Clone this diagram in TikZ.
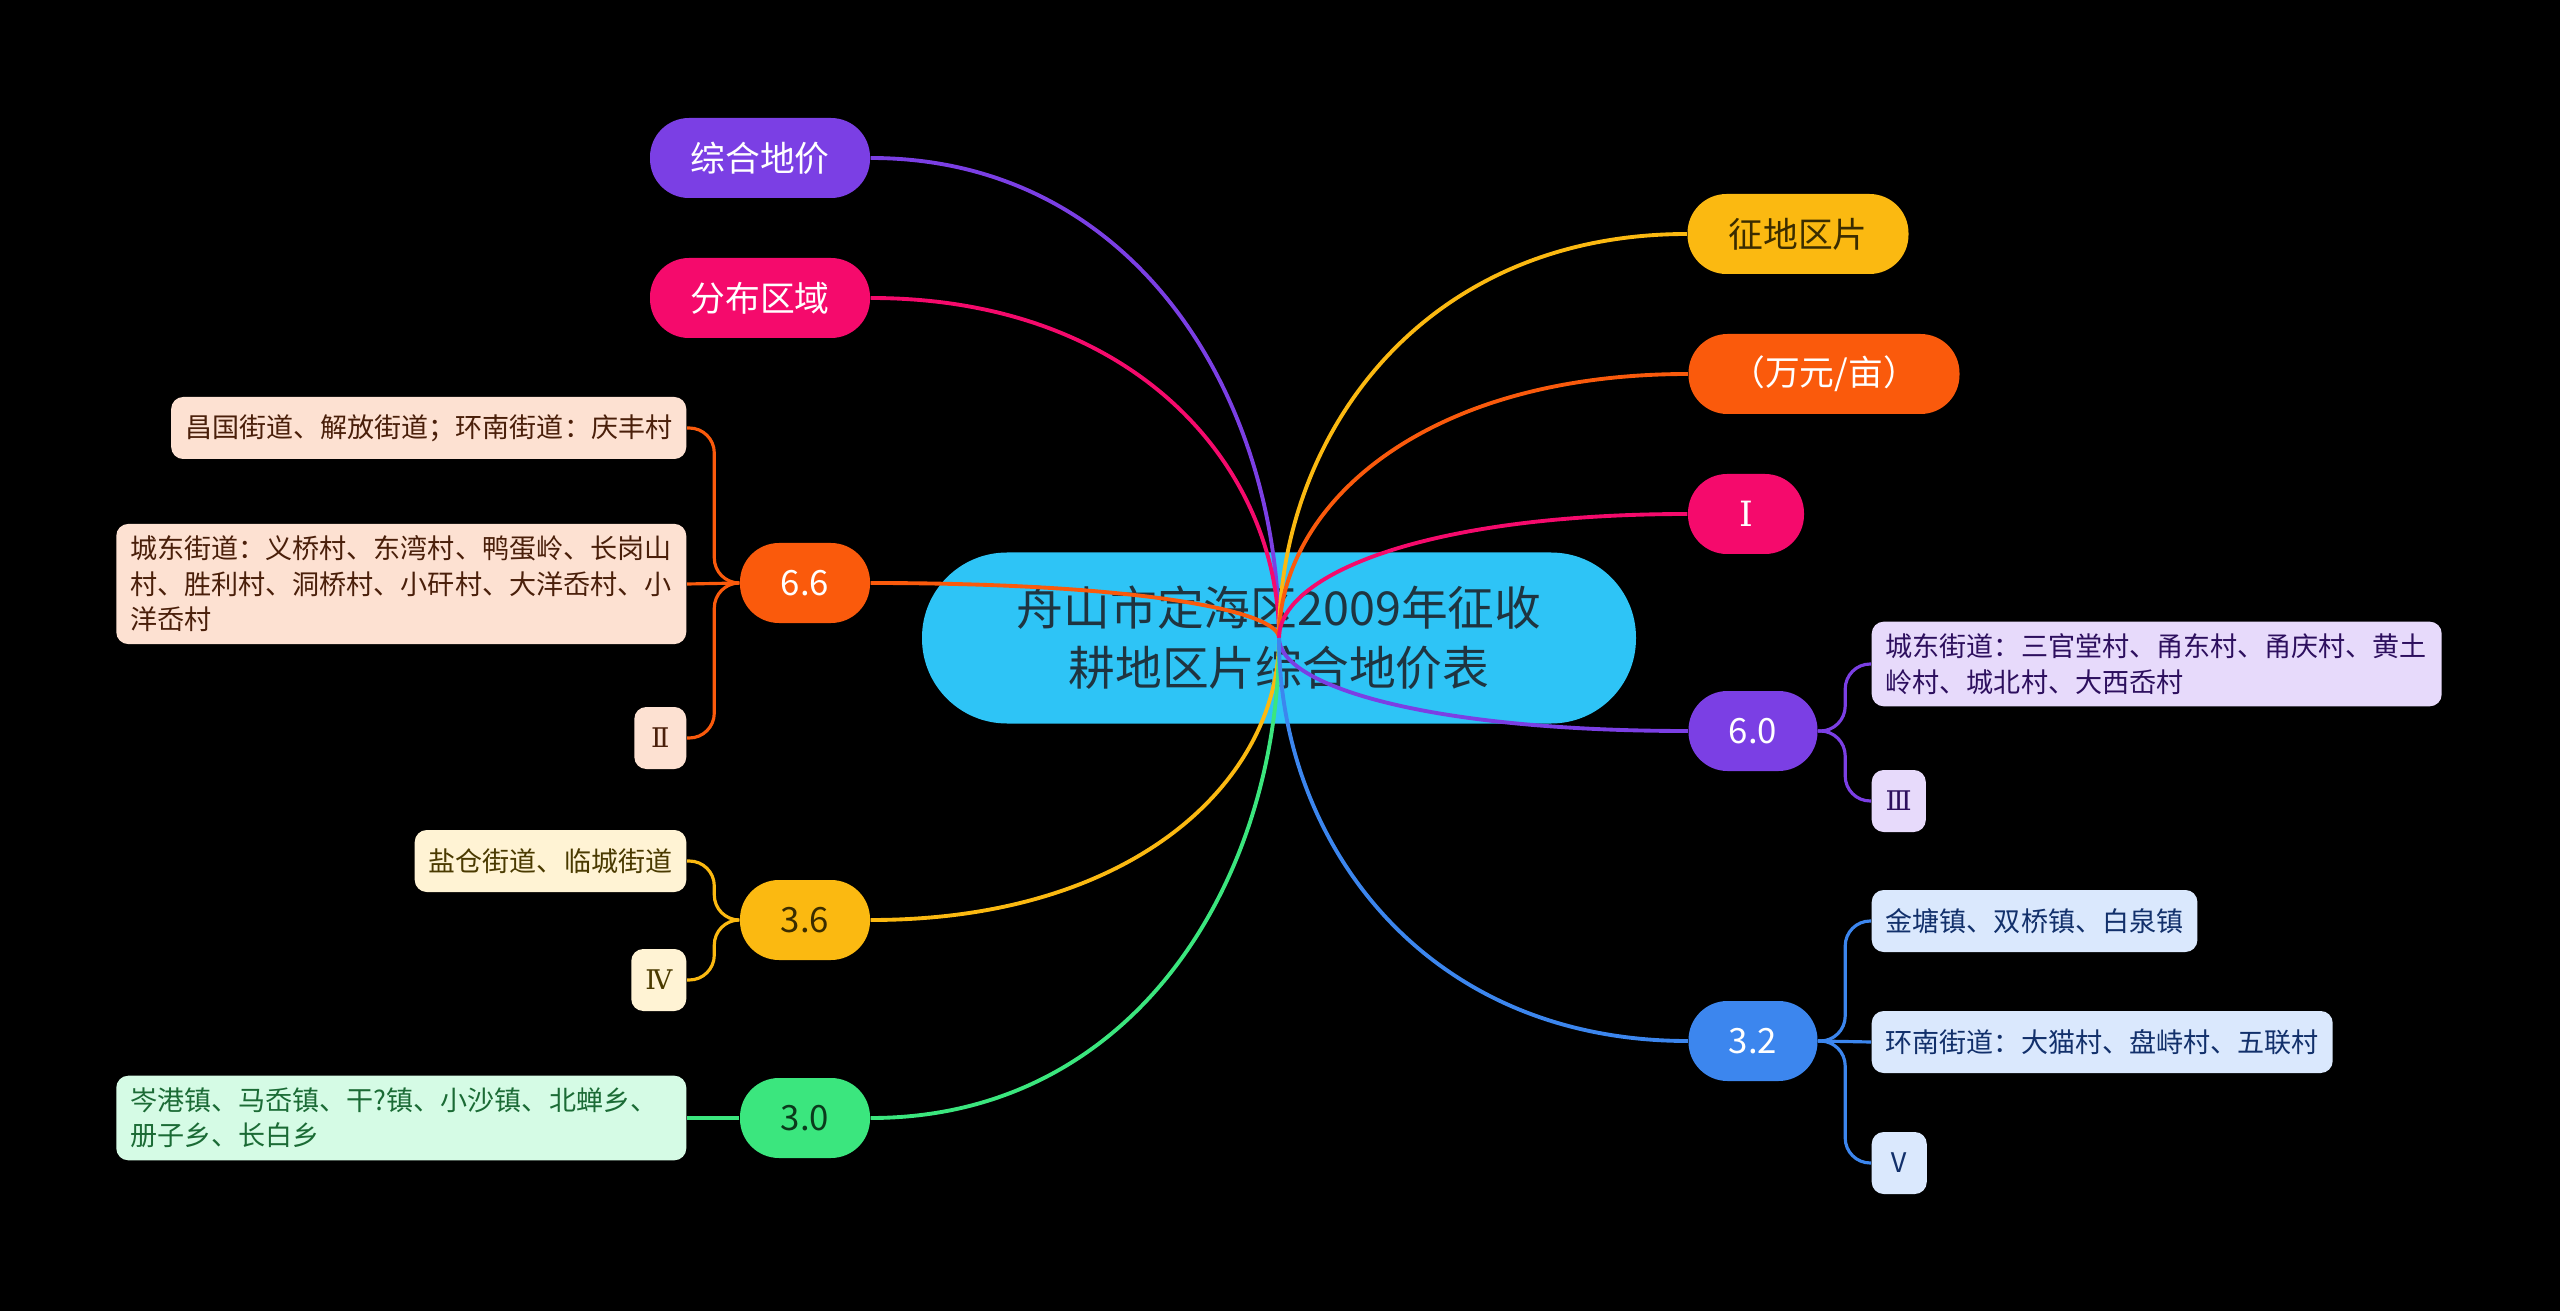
\documentclass[tikz,border=0pt]{standalone}
\usepackage{fontspec}
\usepackage{tikz}
\usetikzlibrary{calc}
\newfontfamily\cjk{Noto Sans CJK SC}
\newfontfamily\romnum{DejaVu Serif}
\definecolor{mmcyan}{HTML}{2EC4F6}
\definecolor{mmhubtext}{HTML}{1F3440}
\definecolor{mmviolet}{HTML}{7B3FE4}
\definecolor{mmrose}{HTML}{F50A6C}
\definecolor{mmorange}{HTML}{FA5A0C}
\definecolor{mmgold}{HTML}{FBB911}
\definecolor{mmgreen}{HTML}{3BE67E}
\definecolor{mmblue}{HTML}{3C86EE}
\definecolor{mmgolddark}{HTML}{3A2C00}
\definecolor{mmgreendark}{HTML}{0B3A1C}
\definecolor{mmorangepale}{HTML}{FDE1D2}
\definecolor{mmorangeink}{HTML}{4A1F0A}
\definecolor{mmgoldpale}{HTML}{FFF3D4}
\definecolor{mmgoldink}{HTML}{4A3A00}
\definecolor{mmgreenpale}{HTML}{D5FBE5}
\definecolor{mmgreenink}{HTML}{1B6B35}
\definecolor{mmvioletpale}{HTML}{E7DAFB}
\definecolor{mmvioletink}{HTML}{2D0F5E}
\definecolor{mmbluepale}{HTML}{DAE8FD}
\definecolor{mmblueink}{HTML}{12306B}

\begin{document}
\begin{tikzpicture}[
  hub/.style={rectangle,rounded corners=0.85cm,fill=mmcyan,minimum width=7.14cm,
    minimum height=1.71cm,align=center,text=mmhubtext,font=\cjk\fontsize{13.3}{17}\selectfont},
  topic/.style={rectangle,rounded corners=0.39cm,minimum height=0.80cm,inner xsep=0.2cm,
    text=white,font=\cjk\fontsize{9.9}{12}\selectfont},
  leaf/.style={rectangle,rounded corners=0.12cm,minimum height=0.62cm,inner xsep=0.14cm,
    inner ysep=0.12cm,align=left,font=\cjk\fontsize{7.7}{10.1}\selectfont},
  numleaf/.style={minimum width=0.52cm},
  leafor/.style={leaf,fill=mmorangepale,text=mmorangeink},
  leafgo/.style={leaf,fill=mmgoldpale,text=mmgoldink},
  leafgr/.style={leaf,fill=mmgreenpale,text=mmgreenink},
  leafvi/.style={leaf,fill=mmvioletpale,text=mmvioletink},
  leafbl/.style={leaf,fill=mmbluepale,text=mmblueink},
  link/.style={line width=1.1pt},
  sublink/.style={line width=0.9pt,rounded corners=0.25cm}]
  \fill[black] (0,0) rectangle (25.6,-13.11);
  \useasboundingbox (0,0) rectangle (25.6,-13.11);

  \node[hub] (c) at (12.79,-6.38) {舟山市定海区2009年征收\\耕地区片综合地价表};

  % left branches
  \node[topic,fill=mmviolet,minimum width=2.2cm] (zh) at (7.60,-1.58) {综合地价};
  \node[topic,fill=mmrose,minimum width=2.2cm] (fb) at (7.60,-2.98) {分布区域};
  \node[topic,fill=mmorange,minimum width=1.3cm] (p66) at (8.05,-5.83) {6.6};
  \node[topic,fill=mmgold,text=mmgolddark,minimum width=1.3cm] (p36) at (8.05,-9.20) {3.6};
  \node[topic,fill=mmgreen,text=mmgreendark,minimum width=1.3cm] (p30) at (8.05,-11.18) {3.0};

  % right branches
  \node[topic,fill=mmgold,text=mmgolddark,minimum width=2.21cm] (zd) at (17.98,-2.34) {征地区片};
  \node[topic,fill=mmorange,minimum width=2.71cm] (wy) at (18.24,-3.74) {（万元/亩）};
  \node[topic,fill=mmrose,minimum width=1.16cm] (g1) at (17.46,-5.14) {\romnum Ⅰ};
  \node[topic,fill=mmviolet,minimum width=1.29cm] (p60) at (17.53,-7.31) {6.0};
  \node[topic,fill=mmblue,minimum width=1.29cm] (p32) at (17.53,-10.41) {3.2};

  % leaves
  \node[leafor,anchor=east] (a1) at (6.87,-4.28) {昌国街道、解放街道；环南街道：庆丰村};
  \node[leafor,anchor=east,text width=5.42cm] (a2) at (6.87,-5.84)
    {城东街道：义桥村、东湾村、鸭蛋岭、长岗山\\村、胜利村、洞桥村、小矸村、大洋岙村、小\\洋岙村};
  \node[leafor,numleaf,anchor=east] (a3) at (6.87,-7.38) {\romnum Ⅱ};
  \node[leafgo,anchor=east] (b1) at (6.87,-8.61) {盐仓街道、临城街道};
  \node[leafgo,numleaf,anchor=east] (b2) at (6.87,-9.80) {\romnum Ⅳ};
  \node[leafgr,anchor=east,text width=5.42cm] (c1) at (6.87,-11.18)
    {岑港镇、马岙镇、干?镇、小沙镇、北蝉乡、\\册子乡、长白乡};
  \node[leafvi,anchor=west,text width=5.42cm] (d1) at (18.71,-6.64)
    {城东街道：三官堂村、甬东村、甬庆村、黄土\\岭村、城北村、大西岙村};
  \node[leafvi,numleaf,anchor=west] (d2) at (18.71,-8.01) {\romnum Ⅲ};
  \node[leafbl,anchor=west] (e1) at (18.71,-9.21) {金塘镇、双桥镇、白泉镇};
  \node[leafbl,anchor=west] (e2) at (18.71,-10.42) {环南街道：大猫村、盘峙村、五联村};
  \node[leafbl,numleaf,anchor=west] (e3) at (18.71,-11.63) {Ⅴ};

  % connectors from the hub
  \foreach \n/\col in {zh/mmviolet,fb/mmrose,p66/mmorange,p36/mmgold,p30/mmgreen}
    \draw[link,\col] (c.center)
      .. controls ($(c.center)!0.5!(c.center |- \n.east)$)
      and ($(\n.east)!0.65!(c.center |- \n.east)$) .. (\n.east);
  \foreach \n/\col in {zd/mmgold,wy/mmorange,g1/mmrose,p60/mmviolet,p32/mmblue}
    \draw[link,\col] (c.center)
      .. controls ($(c.center)!0.5!(c.center |- \n.west)$)
      and ($(\n.west)!0.65!(c.center |- \n.west)$) .. (\n.west);

  % brackets to leaves
  \coordinate (j66) at ($(p66.west)+(-0.25,0)$);
  \coordinate (j36) at ($(p36.west)+(-0.25,0)$);
  \coordinate (j60) at ($(p60.east)+(0.27,0)$);
  \coordinate (j32) at ($(p32.east)+(0.27,0)$);
  \draw[sublink,mmorange] (p66.west) -- (j66) |- (a1.east);
  \draw[sublink,mmorange] (p66.west) -- (a2.east);
  \draw[sublink,mmorange] (p66.west) -- (j66) |- (a3.east);
  \draw[sublink,mmgold] (p36.west) -- (j36) |- (b1.east);
  \draw[sublink,mmgold] (p36.west) -- (j36) |- (b2.east);
  \draw[sublink,mmgreen] (p30.west) -- (c1.east);
  \draw[sublink,mmviolet] (p60.east) -- (j60) |- (d1.west);
  \draw[sublink,mmviolet] (p60.east) -- (j60) |- (d2.west);
  \draw[sublink,mmblue] (p32.east) -- (j32) |- (e1.west);
  \draw[sublink,mmblue] (p32.east) -- (e2.west);
  \draw[sublink,mmblue] (p32.east) -- (j32) |- (e3.west);
\end{tikzpicture}
\end{document}
